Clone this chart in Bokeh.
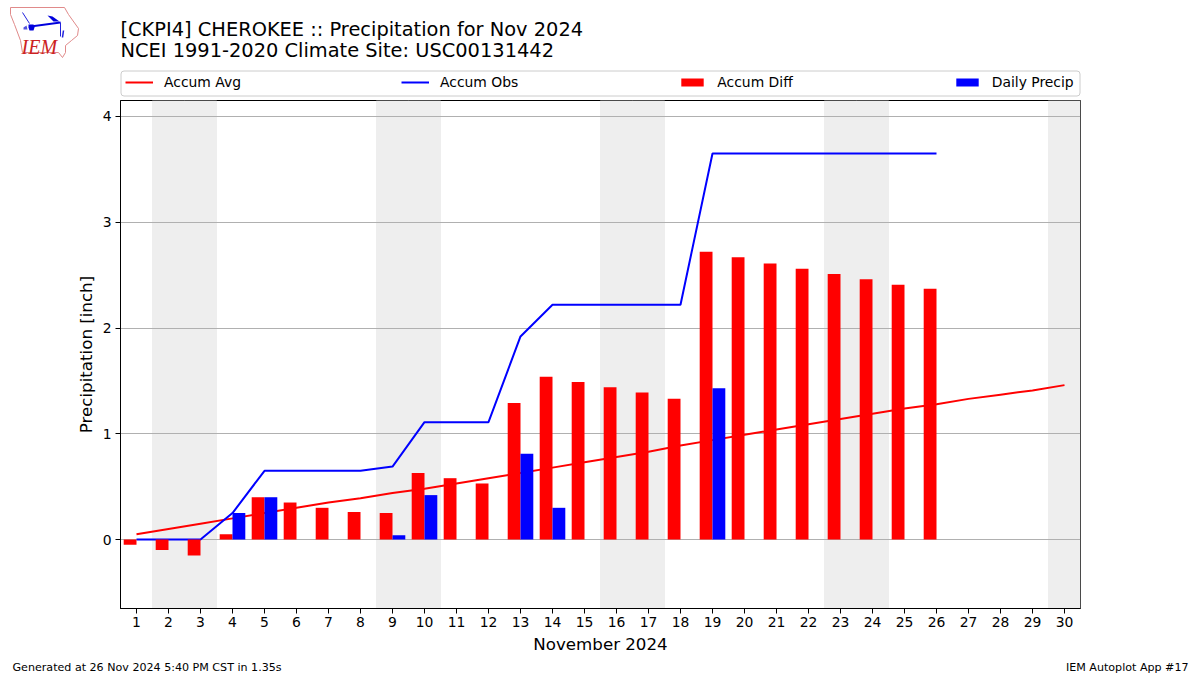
from bokeh.plotting import figure
from bokeh.layouts import column
from bokeh.embed import file_html
from bokeh.resources import INLINE
from bokeh.models import (ColumnDataSource, Legend, LegendItem, FixedTicker, Range1d, Span, Quad)
from bokeh.core.properties import value
from bokeh.transform import dodge

TITLE_1 = "[CKPI4] CHEROKEE :: Precipitation for Nov 2024"
TITLE_2 = "NCEI 1991-2020 Climate Site: USC00131442"
FOOT_L = "Generated at 26 Nov 2024 5:40 PM CST in 1.35s"
FOOT_R = "IEM Autoplot App #17"

days = list(range(1, 31))
accum_avg = [0.05, 0.10, 0.15, 0.20, 0.25, 0.30, 0.35, 0.39, 0.44, 0.48,
             0.53, 0.58, 0.63, 0.68, 0.73, 0.78, 0.83, 0.89, 0.94, 0.99,
             1.04, 1.09, 1.14, 1.19, 1.24, 1.28, 1.33, 1.37, 1.41, 1.46]
obs_days = list(range(1, 27))
accum_obs = [0, 0, 0, 0.25, 0.65, 0.65, 0.65, 0.65, 0.69, 1.11, 1.11, 1.11, 1.92,
             2.22, 2.22, 2.22, 2.22, 2.22, 3.65, 3.65, 3.65, 3.65, 3.65, 3.65, 3.65, 3.65]
accum_diff = [-0.05, -0.10, -0.15, 0.05, 0.40, 0.35, 0.30, 0.26, 0.25, 0.63, 0.58, 0.53, 1.29,
              1.54, 1.49, 1.44, 1.39, 1.33, 2.72, 2.67, 2.61, 2.56, 2.51, 2.46, 2.41, 2.37]
precip_days = [4, 5, 9, 10, 13, 14, 19]
daily_precip = [0.25, 0.40, 0.04, 0.42, 0.81, 0.30, 1.43]
weekend_days = [2, 3, 9, 10, 16, 17, 23, 24, 30]
y_ticks = [0, 1, 2, 3, 4]

FONT = "DejaVu Sans"
HEAD_H = 97
FOOT_H = 20
X_MIN, X_MAX = 0.5, 30.5
Y_MIN, Y_MAX = -0.652, 4.151
NAN = float("nan")


def strip(height, top):
    f = figure(width=1200, height=height, output_backend="svg", toolbar_location=None,
               x_range=Range1d(0, 1200), y_range=Range1d(top + height, top), frame_align=False,
               min_border=0, outline_line_color=None, x_axis_type=None, y_axis_type=None)
    f.xgrid.visible = False
    f.ygrid.visible = False
    return f


def text(f, s, x, y, size, font=FONT, **kw):
    f.text(x=[x], y=[y], text=[s], text_font=value(font), text_font_size=value(size),
           text_baseline="middle", **kw)


head = strip(HEAD_H, 0)
text(head, TITLE_1, 120, 29, "19.4px")
text(head, TITLE_2, 120, 50, "19.4px")
iowa_x = [10, 64, 68, 78, 77, 71, 65, 65, 62, 58, 22, 20, 14, 10, 10]
iowa_y = [7, 7, 14, 28, 35, 40, 45, 52, 57, 52, 52, 40, 24, 14, 7]
head.line(iowa_x, iowa_y, line_color="#e08a8a", line_width=1)
head.patch([30, 60, 60, 30], [25, 21, 23, 27], color="#0000dd", line_width=0)
head.patch([28, 33, 34, 33, 29, 28], [24, 24, 27, 30, 30, 27], color="#0000dd", line_width=0)
head.patch([47, 52, 59, 53], [15, 16, 21, 21], color="#0000dd", line_width=0)
head.line([22, 29], [12, 23], line_color="#2222dd", line_width=1)
head.line([60, 60], [22, 36], line_color="#2222dd", line_width=1)
head.line([63, 62], [30, 37], line_color="#2222dd", line_width=1.5)
head.patch([23, 26, 27, 23], [27, 25, 29, 29], color="#5555dd", line_width=0)
text(head, "IEM", 21, 46, "20px", font="Liberation Serif", text_color="#cc2222",
     text_font_style="italic")

frame_box = head.quad(left=[120.5], right=[1079.5], top=[70.5], bottom=[95.5], fill_color="white",
                      line_color="#cccccc", line_width=1)
if "border_radius" in Quad.properties():
    frame_box.glyph.border_radius = 3

l_avg = head.line([NAN], [NAN], line_color="red", line_width=2)
l_obs = head.line([NAN], [NAN], line_color="blue", line_width=2)
l_diff = head.quad(left=[NAN], right=[NAN], top=[NAN], bottom=[NAN], fill_color="red", line_color=None)
l_prec = head.quad(left=[NAN], right=[NAN], top=[NAN], bottom=[NAN], fill_color="blue", line_color=None)
legend = Legend(items=[LegendItem(label="Accum Avg", renderers=[l_avg]),
                       LegendItem(label="Accum Obs", renderers=[l_obs]),
                       LegendItem(label="Accum Diff", renderers=[l_diff]),
                       LegendItem(label="Daily Precip", renderers=[l_prec])],
                orientation="horizontal", location=(125, 7), spacing=160,
                glyph_width=28, glyph_height=10, label_standoff=11, label_height=13, label_width=10,
                padding=4, margin=0, label_text_font=FONT, label_text_font_size="13.9px",
                label_text_color="black", border_line_color=None,
                background_fill_alpha=0, click_policy="none")
head.add_layout(legend)

foot = strip(FOOT_H, 655)
text(foot, FOOT_L, 12, 666, "11.1px")
text(foot, FOOT_R, 1188, 666, "11.1px", text_align="right")

p = figure(width=1200, height=675 - HEAD_H - FOOT_H, output_backend="svg", toolbar_location=None,
           x_range=Range1d(X_MIN, X_MAX), y_range=Range1d(Y_MIN, Y_MAX), frame_align=False,
           min_border_left=120, min_border_right=120, min_border_top=100 - HEAD_H, min_border_bottom=47,
           frame_width=960, frame_height=508, background_fill_color="white")

p.vbar(x=weekend_days, width=1, bottom=Y_MIN, top=Y_MAX, color="#eeeeee", level="image")

p.xgrid.visible = False
p.ygrid.grid_line_color = "#b0b0b0"
p.ygrid.grid_line_width = 1
p.ygrid.ticker = FixedTicker(ticks=y_ticks)
p.outline_line_color = "black"

for ax in (p.xaxis[0], p.yaxis[0]):
    ax.major_tick_in = 0
    ax.major_tick_out = 5
    ax.minor_tick_in = 0
    ax.minor_tick_out = 0
    ax.major_tick_line_color = "black"
    ax.axis_line_color = "black"
    ax.major_label_text_font = FONT
    ax.major_label_text_font_size = "13.9px"
    ax.major_label_text_color = "black"
    ax.axis_label_text_font = FONT
    ax.axis_label_text_font_size = "16.67px"
    ax.axis_label_text_font_style = "normal"
    ax.axis_label_text_color = "black"
p.xaxis.ticker = FixedTicker(ticks=days)
p.yaxis.ticker = FixedTicker(ticks=y_ticks)
p.xaxis.axis_label = "November 2024"
p.yaxis.axis_label = "Precipitation [inch]"
p.xaxis.major_label_standoff = 3
p.yaxis.major_label_standoff = 4
p.xaxis.axis_label_standoff = 5
p.yaxis.axis_label_standoff = 4

# frame edges above the weekend shading
p.add_layout(Span(location=X_MAX, dimension="height", line_color="black", line_width=1))
p.add_layout(Span(location=Y_MAX, dimension="width", line_color="black", line_width=1))

p.line(days, accum_avg, line_color="red", line_width=2)
p.line(obs_days, accum_obs, line_color="blue", line_width=2)
diff_src = ColumnDataSource(dict(x=obs_days, y=accum_diff))
prec_src = ColumnDataSource(dict(x=precip_days, y=daily_precip))
p.vbar(x=dodge("x", -0.2, range=p.x_range), width=0.4, bottom=0, top="y", source=diff_src,
       fill_color="red", line_color=None)
p.vbar(x=dodge("x", 0.2, range=p.x_range), width=0.4, bottom=0, top="y", source=prec_src,
       fill_color="blue", line_color=None)

page = column(head, p, foot, spacing=0)
open("out.html", "w").write(file_html(page, INLINE))
